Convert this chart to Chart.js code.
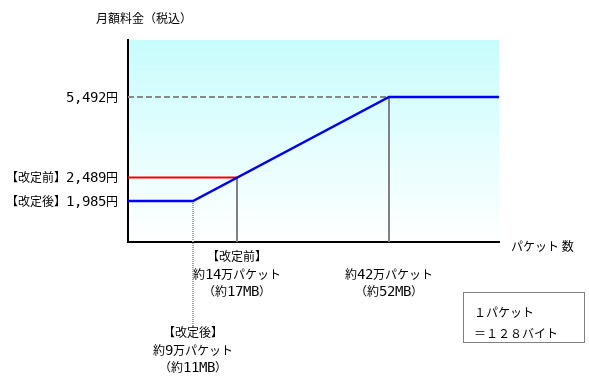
<!DOCTYPE html>
<html lang="ja">
<head>
<meta charset="utf-8">
<script src="https://cdn.jsdelivr.net/npm/chart.js@4/dist/chart.umd.min.js"></script>
<style>
  @font-face {
    font-family: 'WideDigits';
    src: local('DejaVu Sans Mono'), local('DejaVuSansMono');
    unicode-range: U+0030-0039, U+002C, U+0041-005A;
    size-adjust: 120%;
  }
  html, body { margin: 0; padding: 0; background: #ffffff; }
  #wrap { position: relative; width: 589px; height: 391px; }
</style>
</head>
<body>
<div id="wrap"><canvas id="c"></canvas></div>
<script>
// ---- data (万パケット / 円) ----
const xTickValues = [9, 14, 42];
const xTickLabels = [
  ['【改定後】', '約9万パケット', '（約11MB）'],
  ['【改定前】', '約14万パケット', '（約17MB）'],
  ['', '約42万パケット', '（約52MB）']
];
const yTickValues = [1985, 2489, 5492];
const yTickLabels = ['【改定後】1,985円', '【改定前】2,489円', '5,492円'];

const afterX  = [0, 9, 42, 60];
const afterY  = [1985, 1985, 5492, 5492];
const beforeX = [0, 14];
const beforeY = [2489, 2489];
const capX    = [0, 42];
const capY    = [5492, 5492];
const drop14X = [14, 14];
const drop14Y = [2489, 0];
const drop42X = [42, 42];
const drop42Y = [5492, 0];
const drop9X  = [9, 9];
const drop9Y  = [1985, 0];

const titleText = '月額料金（税込）';
const xAxisText = 'パケット 数';
const noteLines = ['１パケット', '＝１２８バイト'];

// ---- non-uniform (piecewise) axis layout: value -> fraction of the axis ----
const scaleBreaks = {
  x:  { v: [0, 9, 14, 42, 60], f: [0, 0.1752, 0.2938, 0.7035, 1] },
  x2: { v: [0, 9, 14, 42, 60], f: [0, 0.1752, 0.2938, 0.7035, 1] },
  y:  { v: [0, 1985, 2489, 5492, 7000], f: [0, 0.2030, 0.3193, 0.7178, 1] }
};

class PiecewiseScale extends Chart.LinearScale {
  static id = 'piecewise';
  static defaults = Chart.LinearScale.defaults;
  getPixelForValue(value) {
    if (value === null || value === undefined || isNaN(value)) return NaN;
    const b = scaleBreaks[this.id];
    let i = 0;
    while (i < b.v.length - 2 && value > b.v[i + 1]) i++;
    const f = b.f[i] + (value - b.v[i]) / (b.v[i + 1] - b.v[i]) * (b.f[i + 1] - b.f[i]);
    return this.getPixelForDecimal(f);
  }
  getValueForPixel(pixel) {
    const b = scaleBreaks[this.id];
    const d = this.getDecimalForPixel(pixel);
    let i = 0;
    while (i < b.f.length - 2 && d > b.f[i + 1]) i++;
    return b.v[i] + (d - b.f[i]) / (b.f[i + 1] - b.f[i]) * (b.v[i + 1] - b.v[i]);
  }
}
Chart.register(PiecewiseScale);

const pts = (xs, ys) => xs.map((x, i) => ({ x: x, y: ys[i] }));
const FONT = "WideDigits, 'Noto Sans CJK JP', 'Noto Sans', sans-serif";

const decorPlugin = {
  id: 'decor',
  beforeDraw(chart) {
    const { ctx, chartArea: a } = chart;
    const g = ctx.createLinearGradient(0, a.top, 0, a.bottom);
    g.addColorStop(0, '#c8fcfc');
    g.addColorStop(1, '#ffffff');
    ctx.save();
    ctx.fillStyle = g;
    ctx.fillRect(a.left, a.top, a.right - a.left, a.bottom - a.top);
    ctx.restore();
  },
  afterDraw(chart) {
    const { ctx, chartArea: a } = chart;
    const xs = chart.scales.x;
    ctx.save();
    // dotted drop line for 9万 continues below the axis to its label
    const px = Math.round(xs.getPixelForValue(drop9X[0]));
    ctx.strokeStyle = '#a0a0a0';
    ctx.lineWidth = 2;
    ctx.setLineDash([1, 1]);
    ctx.beginPath();
    ctx.moveTo(px, a.bottom + 1);
    ctx.lineTo(px, 327);
    ctx.stroke();
    ctx.setLineDash([]);
    // texts
    ctx.fillStyle = '#000';
    ctx.font = '12px ' + FONT;
    ctx.textBaseline = 'middle';
    ctx.textAlign = 'center';
    ctx.fillText(titleText, 144, 18);
    ctx.textAlign = 'left';
    ctx.fillText(xAxisText, 511, 246);
    // note box
    ctx.strokeStyle = '#808080';
    ctx.lineWidth = 1;
    ctx.strokeRect(463.5, 292.5, 121, 50);
    ctx.fillText(noteLines[0], 474, 312);
    ctx.fillText(noteLines[1], 474, 333);
    ctx.restore();
  }
};

function build() {
  new Chart(document.getElementById('c'), {
    type: 'line',
    data: {
      datasets: [
        { data: pts(afterX, afterY), borderColor: '#0000ff', borderWidth: 2.5, order: 0 },
        { data: pts(beforeX, beforeY), borderColor: '#ff0000', borderWidth: 2, order: 1 },
        { data: pts(capX, capY), borderColor: '#888888', borderWidth: 2, borderDash: [6, 3], order: 2 },
        { data: pts(drop14X, drop14Y), borderColor: '#808080', borderWidth: 2, order: 3 },
        { data: pts(drop42X, drop42Y), borderColor: '#808080', borderWidth: 2, order: 3 },
        { data: pts(drop9X, drop9Y), borderColor: '#a0a0a0', borderWidth: 2, borderDash: [1, 1], order: 3 }
      ]
    },
    options: {
      responsive: true,
      maintainAspectRatio: false,
      animation: false,
      events: [],
      layout: { autoPadding: false, padding: { left: 0, top: 40, right: 90, bottom: 14 } },
      elements: { point: { radius: 0 }, line: { tension: 0, fill: false } },
      plugins: { legend: { display: false }, tooltip: { enabled: false }, title: { display: false } },
      scales: {
        x: {
          type: 'piecewise', position: 'bottom', weight: 1, min: 0, max: 60, z: 1,
          grid: { display: false, drawTicks: false },
          border: { display: true, color: '#000', width: 2 },
          afterBuildTicks: s => { s.ticks = [14, 42].map(v => ({ value: v })); },
          afterFit: s => { s.height = 58; },
          ticks: {
            autoSkip: false, maxRotation: 0, padding: 6, color: '#000',
            font: { family: FONT, size: 12, lineHeight: 1.45 },
            callback: v => xTickLabels[xTickValues.indexOf(v)]
          }
        },
        x2: {
          type: 'piecewise', position: 'bottom', weight: 2, min: 0, max: 60,
          grid: { display: false, drawTicks: false },
          border: { display: false },
          afterBuildTicks: s => { s.ticks = [9].map(v => ({ value: v })); },
          afterFit: s => { s.height = 77; },
          ticks: {
            autoSkip: false, maxRotation: 0, padding: 24, color: '#000',
            font: { family: FONT, size: 12, lineHeight: 1.45 },
            callback: v => xTickLabels[xTickValues.indexOf(v)]
          }
        },
        y: {
          type: 'piecewise', position: 'left', min: 0, max: 7000, z: 1,
          grid: { display: false, drawTicks: false },
          border: { display: true, color: '#000', width: 2 },
          afterBuildTicks: s => { s.ticks = yTickValues.map(v => ({ value: v })); },
          afterFit: s => { s.width = 128; },
          ticks: {
            autoSkip: false, padding: 10, color: '#000',
            font: { family: FONT, size: 12 },
            callback: v => yTickLabels[yTickValues.indexOf(v)]
          }
        }
      }
    },
    plugins: [decorPlugin]
  });
}

if (document.fonts && document.fonts.load) {
  document.fonts.load("12px WideDigits", "0123456789,MB").then(build, build);
} else {
  build();
}
</script>
</body>
</html>
